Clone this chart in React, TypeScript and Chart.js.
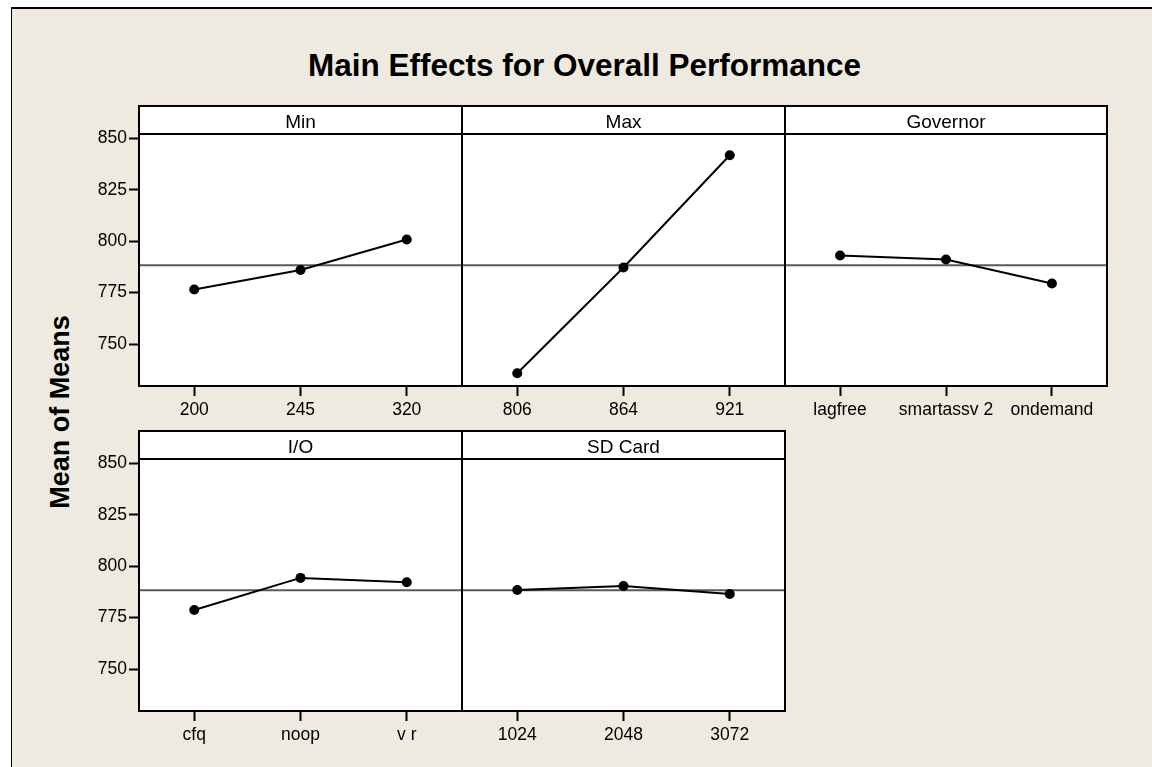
import React, { useEffect, useRef } from "react";
import { Chart, registerables } from "chart.js";

Chart.register(...registerables);

const MAIN_TITLE = "Main Effects for Overall Performance";
const Y_TITLE = "Mean of Means";

const FACTORS = ["Min", "Max", "Governor", "I/O", "SD Card"];

const MIN_LEVELS = ["200", "245", "320"];
const MIN_MEANS = [776.5, 786.0, 800.8];

const MAX_LEVELS = ["806", "864", "921"];
const MAX_MEANS = [735.8, 787.2, 841.8];

const GOVERNOR_LEVELS = ["lagfree", "smartassv 2", "ondemand"];
const GOVERNOR_MEANS = [793.0, 791.1, 779.4];

const IO_LEVELS = ["cfq", "noop", "v r"];
const IO_MEANS = [778.7, 794.3, 792.2];

const SD_LEVELS = ["1024", "2048", "3072"];
const SD_MEANS = [788.4, 790.4, 786.5];

const GRAND_MEAN = 788.3;

const Y_TICKS = [750, 775, 800, 825, 850];
const Y_MIN = 729.6;
const Y_MAX = 852.1;
const X_MIN = -0.52;
const X_MAX = 2.52;

const FONT = "'Liberation Sans', Arial, sans-serif";
const BG = "#EEEAE0";
const HEADER_H = 28;
const PLOT_H = 252;
const AXIS_H = 45;
const Y_AXIS_W = 100;
const PAD = 4;

const framePlugin = {
  id: "panelFrame",
  beforeDraw(chart: any) {
    const { ctx, chartArea: a } = chart;
    ctx.save();
    ctx.fillStyle = "#ffffff";
    ctx.fillRect(a.left, a.top - HEADER_H, a.right - a.left, a.bottom - a.top + HEADER_H);
    ctx.restore();
  },
  afterDraw(chart: any) {
    const { ctx, chartArea: a } = chart;
    ctx.save();
    ctx.strokeStyle = "#000000";
    ctx.lineWidth = 2;
    ctx.strokeRect(a.left, a.top - HEADER_H, a.right - a.left, HEADER_H);
    ctx.strokeRect(a.left, a.top, a.right - a.left, a.bottom - a.top);
    ctx.restore();
  },
};

type PanelProps = {
  factor: string;
  levels: string[];
  means: number[];
  showY: boolean;
  left: number;
  right: number;
  top: number;
};

function Panel({ factor, levels, means, showY, left, right, top }: PanelProps) {
  const ref = useRef<HTMLCanvasElement | null>(null);
  const extraLeft = showY ? Y_AXIS_W : PAD;
  const width = extraLeft + (right - left) + PAD;
  const height = PAD + HEADER_H + PLOT_H + AXIS_H;

  useEffect(() => {
    if (!ref.current) return;
    const chart = new Chart(ref.current, {
      type: "line",
      data: {
        datasets: [
          {
            data: means.map((y, i) => ({ x: i, y })),
            borderColor: "#000000",
            borderWidth: 2,
            pointRadius: 5,
            pointBackgroundColor: "#000000",
            pointBorderWidth: 0,
            tension: 0,
          },
          {
            data: [
              { x: X_MIN, y: GRAND_MEAN },
              { x: X_MAX, y: GRAND_MEAN },
            ],
            borderColor: "#5a5a5a",
            borderWidth: 2,
            pointRadius: 0,
            tension: 0,
          },
        ],
      },
      options: {
        responsive: false,
        animation: false,
        devicePixelRatio: 1,
        layout: {
          autoPadding: false,
          padding: { left: showY ? 0 : PAD, right: PAD, top: PAD, bottom: 0 },
        },
        plugins: {
          legend: { display: false },
          tooltip: { enabled: false },
          title: {
            display: true,
            text: factor,
            fullSize: false,
            color: "#000000",
            font: { family: FONT, size: 19, weight: "normal", lineHeight: 1.2 },
            padding: { top: 5, bottom: 0.2 },
          },
        },
        scales: {
          x: {
            type: "linear",
            min: X_MIN,
            max: X_MAX,
            afterBuildTicks: (s: any) => {
              s.ticks = levels.map((_, i) => ({ value: i }));
            },
            afterFit: (s: any) => {
              s.height = AXIS_H;
            },
            ticks: {
              callback: (v: any) => levels[v as number] ?? "",
              color: "#000000",
              font: { family: FONT, size: 17.5 },
              padding: 4,
              maxRotation: 0,
              autoSkip: false,
            },
            grid: {
              display: true,
              drawOnChartArea: false,
              drawTicks: true,
              tickLength: 10,
              tickWidth: 2,
              tickColor: "#000000",
            },
            border: { display: false },
          },
          y: {
            type: "linear",
            display: showY,
            min: Y_MIN,
            max: Y_MAX,
            afterBuildTicks: (s: any) => {
              s.ticks = Y_TICKS.map((v) => ({ value: v }));
            },
            afterFit: (s: any) => {
              if (showY) s.width = Y_AXIS_W;
            },
            ticks: {
              color: "#000000",
              font: { family: FONT, size: 17.5 },
              padding: 2,
            },
            grid: {
              display: true,
              drawOnChartArea: false,
              drawTicks: true,
              tickLength: 10,
              tickWidth: 2,
              tickColor: "#000000",
            },
            border: { display: false },
          },
        },
      } as any,
      plugins: [framePlugin],
    });
    return () => chart.destroy();
  }, []);

  return (
    <canvas
      ref={ref}
      width={width}
      height={height}
      style={{
        position: "absolute",
        left: left - extraLeft,
        top: top - PAD,
        width,
        height,
      }}
    />
  );
}

export default function App() {
  return (
    <div
      style={{
        position: "absolute",
        left: 0,
        top: 0,
        width: 1152,
        height: 767,
        background: "#ffffff",
        overflow: "hidden",
      }}
    >
      <div
        style={{
          position: "absolute",
          left: 11,
          top: 7,
          width: 1141,
          height: 760,
          background: BG,
          borderTop: "2px solid #000",
          borderLeft: "1px solid #000",
        }}
      />
      <div
        style={{
          position: "absolute",
          left: 0,
          top: 50,
          width: 1169,
          textAlign: "center",
          fontFamily: FONT,
          fontWeight: "bold",
          fontSize: 31.5,
          lineHeight: "31px",
          color: "#000",
          whiteSpace: "nowrap",
        }}
      >
        {MAIN_TITLE}
      </div>
      <div
        style={{
          position: "absolute",
          left: 60 - 150,
          top: 412 - 15,
          width: 300,
          height: 30,
          lineHeight: "30px",
          textAlign: "center",
          fontFamily: FONT,
          fontWeight: "bold",
          fontSize: 27,
          color: "#000",
          transform: "rotate(-90deg)",
          whiteSpace: "nowrap",
        }}
      >
        {Y_TITLE}
      </div>
      <Panel factor={FACTORS[0]} levels={MIN_LEVELS} means={MIN_MEANS} showY={true} left={139} right={462} top={106} />
      <Panel factor={FACTORS[1]} levels={MAX_LEVELS} means={MAX_MEANS} showY={false} left={462} right={785} top={106} />
      <Panel factor={FACTORS[2]} levels={GOVERNOR_LEVELS} means={GOVERNOR_MEANS} showY={false} left={785} right={1107} top={106} />
      <Panel factor={FACTORS[3]} levels={IO_LEVELS} means={IO_MEANS} showY={true} left={139} right={462} top={431} />
      <Panel factor={FACTORS[4]} levels={SD_LEVELS} means={SD_MEANS} showY={false} left={462} right={785} top={431} />
    </div>
  );
}
